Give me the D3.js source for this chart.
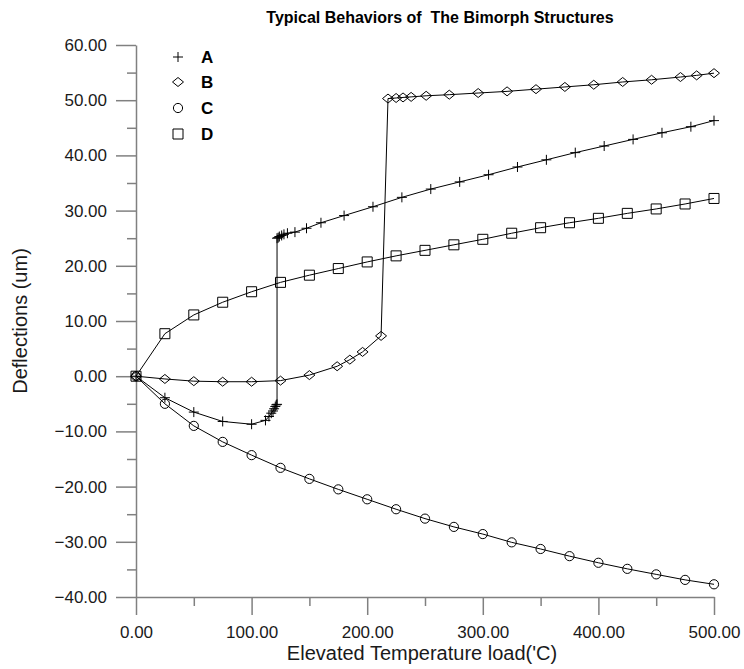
<!DOCTYPE html>
<html>
<head>
<meta charset="utf-8">
<script src="https://cdn.jsdelivr.net/npm/d3@7/dist/d3.min.js"></script>
<style>
  html, body { margin: 0; padding: 0; background: #fff; }
  svg { display: block; font-family: "Liberation Sans", Arial, sans-serif; }
</style>
</head>
<body>
<svg id="chart" width="744" height="669"></svg>
<script>
// ---- data ----
const seriesNames = ["A", "B", "C", "D"];

const aX = [0, 25, 50, 75, 100, 112, 115, 117, 118.5, 119.5, 120.5, 121.3, 122,
            122, 123, 124, 126, 128, 131, 137.5, 147.5, 160, 180, 205, 230, 255, 280, 305, 330, 355, 380, 405, 430, 455, 480, 500];
const aY = [0, -3.9, -6.5, -8.2, -8.7, -8.0, -7.3, -6.7, -6.3, -5.9, -5.5, -5.2, -5.1,
            25.0, 25.1, 25.3, 25.5, 25.7, 25.9, 26.1, 26.8, 27.8, 29.1, 30.7, 32.4, 33.9, 35.2, 36.5, 37.9, 39.2, 40.5, 41.7, 42.9, 44.1, 45.2, 46.3];

const bX = [0, 25, 50, 75, 100, 125, 150, 174, 185, 196, 212,
            218, 225, 231, 238, 251, 271, 296, 321, 346, 371, 396, 421, 446, 471, 485, 500];
const bY = [0, -0.5, -0.9, -1.0, -1.0, -0.8, 0.2, 1.8, 3.0, 4.4, 7.3,
            50.3, 50.4, 50.5, 50.6, 50.8, 51.0, 51.3, 51.6, 52.0, 52.4, 52.8, 53.3, 53.7, 54.2, 54.5, 54.9];

const cX = [0, 25, 50, 75, 100, 125, 150, 175, 200, 225, 250, 275, 300, 325, 350, 375, 400, 425, 450, 475, 500];
const cY = [0, -5.0, -9.0, -11.9, -14.3, -16.6, -18.6, -20.5, -22.3, -24.1, -25.8, -27.3, -28.6, -30.1, -31.3, -32.6, -33.8, -34.9, -35.9, -36.9, -37.7];

const dX = [0, 25, 50, 75, 100, 125, 150, 175, 200, 225, 250, 275, 300, 325, 350, 375, 400, 425, 450, 475, 500];
const dY = [0, 7.7, 11.1, 13.4, 15.3, 17.0, 18.3, 19.5, 20.7, 21.8, 22.8, 23.8, 24.8, 25.9, 26.9, 27.8, 28.6, 29.5, 30.3, 31.2, 32.2];

const xMajorTicks = [0, 100, 200, 300, 400, 500];
const xMinorTicks = [50, 150, 250, 350, 450];
const yMajorTicks = [-40, -30, -20, -10, 0, 10, 20, 30, 40, 50, 60];
const yMinorTicks = [-35, -25, -15, -5, 5, 15, 25, 35, 45, 55];

const titleText = "Typical Behaviors of  The Bimorph Structures";
const xTitle = "Elevated Temperature load('C)";
const yTitle = "Deflections (um)";

// ---- chart ----
const svg = d3.select("#chart");
const x = d3.scaleLinear().domain([0, 500]).range([136, 714]);
const y = d3.scaleLinear().domain([-40, 60]).range([597, 45]);
const axisColor = "#808080";
const fmt = d3.format(".2f");

// axes
const gx = svg.append("g").attr("transform", `translate(0,${y(-40)})`)
  .call(d3.axisBottom(x).tickValues(xMajorTicks).tickSize(18).tickSizeOuter(0).tickPadding(11).tickFormat(fmt));
const gxm = svg.append("g").attr("transform", `translate(0,${y(-40)})`)
  .call(d3.axisBottom(x).tickValues(xMinorTicks).tickSize(9).tickFormat(""));
gxm.select(".domain").remove();
const gy = svg.append("g").attr("transform", `translate(${x(0)},0)`)
  .call(d3.axisLeft(y).tickValues(yMajorTicks).tickSize(20).tickSizeOuter(0).tickPadding(9).tickFormat(fmt));
const gym = svg.append("g").attr("transform", `translate(${x(0)},0)`)
  .call(d3.axisLeft(y).tickValues(yMinorTicks).tickSize(9).tickFormat(""));
gym.select(".domain").remove();

svg.selectAll(".domain, .tick line").attr("stroke", axisColor).attr("stroke-width", 1.5);
svg.selectAll(".tick text").attr("fill", "#1a1a1a").attr("font-size", 17)
  .attr("font-family", "'Liberation Sans', Arial, sans-serif");

// titles
svg.append("text").attr("x", 440).attr("y", 23).attr("text-anchor", "middle")
  .style("white-space", "pre")
  .attr("font-size", 16).attr("font-weight", "bold").attr("fill", "#000").text(titleText);
svg.append("text").attr("x", 422).attr("y", 660).attr("text-anchor", "middle")
  .attr("font-size", 20).attr("fill", "#1a1a1a").text(xTitle);
svg.append("text").attr("transform", `translate(27,${y(10)}) rotate(-90)`).attr("text-anchor", "middle")
  .attr("font-size", 20).attr("fill", "#1a1a1a").text(yTitle);

// symbols
const symbolPaths = {
  A: "M-5,0H5M0,-5V5",
  B: "M0,-4.5L5.5,0L0,4.5L-5.5,0Z",
  C: "M4.6,0A4.6,4.6 0 1,1 -4.6,0A4.6,4.6 0 1,1 4.6,0Z",
  D: "M-5,-5H5V5H-5Z"
};
const seriesData = [
  { name: "A", xs: aX, ys: aY },
  { name: "B", xs: bX, ys: bY },
  { name: "C", xs: cX, ys: cY },
  { name: "D", xs: dX, ys: dY }
];
const line = d3.line().x(d => x(d[0])).y(d => y(d[1]));

seriesData.forEach(s => {
  const pts = s.xs.map((v, i) => [v, s.ys[i]]);
  svg.append("path").datum(pts).attr("d", line)
    .attr("fill", "none").attr("stroke", "#000").attr("stroke-width", 1);
  svg.append("g").selectAll("path").data(pts).join("path")
    .attr("transform", d => `translate(${x(d[0])},${y(d[1])})`)
    .attr("d", symbolPaths[s.name])
    .attr("fill", "none").attr("stroke", "#000").attr("stroke-width", 1);
});

// legend
const legendRows = [57, 82, 108, 134];
seriesNames.forEach((n, i) => {
  svg.append("path").attr("transform", `translate(178,${legendRows[i]})`)
    .attr("d", symbolPaths[n]).attr("fill", "none").attr("stroke", "#000").attr("stroke-width", 1);
  svg.append("text").attr("x", 201).attr("y", legendRows[i] + 6)
    .attr("font-size", 17).attr("font-weight", "bold").attr("fill", "#000").text(n);
});
</script>
</body>
</html>
